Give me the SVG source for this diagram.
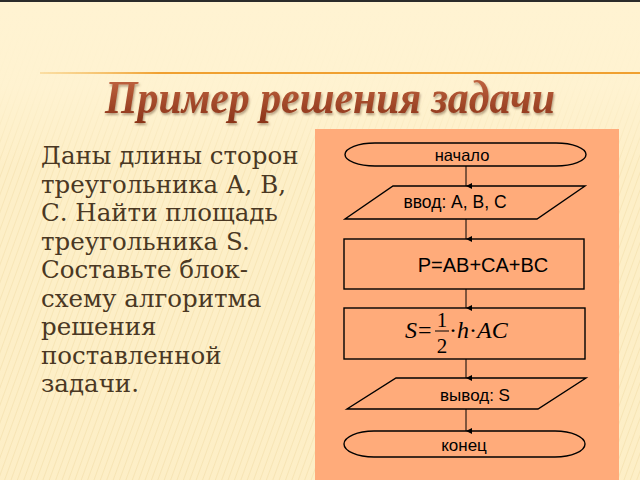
<svg xmlns="http://www.w3.org/2000/svg" width="640" height="480" viewBox="0 0 640 480">
<defs>
<pattern id="stripes" width="6" height="6" patternUnits="userSpaceOnUse" patternTransform="rotate(20)">
<rect width="6" height="6" fill="none"/>
<line x1="0" y1="0" x2="0" y2="6" stroke="#e8cc8a" stroke-width="1.2" opacity="0.55"/>
</pattern>
<linearGradient id="bgfade" x1="0" y1="0" x2="0" y2="1">
<stop offset="0" stop-color="#fff3d2" stop-opacity="1"/>
<stop offset="0.18" stop-color="#fff3d2" stop-opacity="0.9"/>
<stop offset="0.35" stop-color="#fff3d2" stop-opacity="0.2"/>
<stop offset="1" stop-color="#fff3d2" stop-opacity="0.1"/>
</linearGradient>
<linearGradient id="orangeLine" x1="0" y1="0" x2="1" y2="0">
<stop offset="0" stop-color="#f5c060" stop-opacity="0.4"/>
<stop offset="0.2" stop-color="#f0a030"/>
<stop offset="1" stop-color="#f0a030"/>
</linearGradient>
<linearGradient id="titleFill" x1="0" y1="0" x2="0" y2="1">
<stop offset="0" stop-color="#c86a45"/>
<stop offset="1" stop-color="#8a3318"/>
</linearGradient>
<filter id="shadow" x="-10%" y="-30%" width="120%" height="160%">
<feDropShadow dx="1" dy="2" stdDeviation="1.2" flood-color="#6b4a30" flood-opacity="0.5"/>
</filter>
<marker id="arr" markerWidth="8" markerHeight="8" refX="4" refY="7" orient="auto" markerUnits="userSpaceOnUse">
<path d="M1,1 L4,7 L7,1 Z" fill="#000"/>
</marker>
</defs>
<style>
.shape { fill: none; stroke: #000; stroke-width: 1.4; }
.lbl { font-family: "Liberation Sans", Arial, sans-serif; fill: #000; text-anchor: middle; }
.math { font-family: "Liberation Serif", "Times New Roman", serif; fill: #000; }
.body { font-family: "DejaVu Serif", serif; font-size: 24.5px; fill: #4a3823; }
.conn { stroke: #000; stroke-width: 1; fill: none; marker-end: url(#arr); }
</style>

<rect x="0" y="0" width="640" height="480" fill="#fdeec5"/>
<rect x="0" y="0" width="640" height="480" fill="url(#stripes)"/>
<rect x="0" y="0" width="640" height="480" fill="url(#bgfade)"/>
<rect x="0" y="0" width="640" height="2" fill="#2b2b2b"/>
<rect x="40" y="72" width="600" height="2" fill="url(#orangeLine)"/>

<text x="330" y="113" font-family="Liberation Serif, serif" font-style="italic" font-weight="bold" font-size="46" fill="url(#titleFill)" text-anchor="middle" textLength="450" lengthAdjust="spacingAndGlyphs" filter="url(#shadow)">Пример решения задачи</text>

<g id="task-text" class="body">
<text x="41" y="164">Даны длины сторон</text>
<text x="41" y="193">треугольника А, В,</text>
<text x="41" y="221">С. Найти площадь</text>
<text x="41" y="250">треугольника S.</text>
<text x="41" y="278">Составьте блок-</text>
<text x="41" y="307">схему алгоритма</text>
<text x="41" y="335">решения</text>
<text x="41" y="364">поставленной</text>
<text x="41" y="392">задачи.</text>
</g>

<rect x="315" y="129" width="304" height="351" fill="#ffab7a"/>

<g id="connectors">
<line class="conn" x1="466" y1="166" x2="466" y2="186"/>
<line class="conn" x1="466" y1="219" x2="466" y2="239"/>
<line class="conn" x1="466" y1="289" x2="466" y2="308"/>
<line class="conn" x1="466" y1="359" x2="466" y2="378"/>
<line class="conn" x1="466" y1="409" x2="466" y2="431"/>
</g>

<g id="start">
<rect class="shape" x="345" y="143" width="241" height="23" rx="30" ry="11.5"/>
<text class="lbl" x="462" y="161" font-size="16.5">начало</text>
</g>

<g id="input">
<polygon class="shape" points="393,186 585,186 537,219 345,219"/>
<text class="lbl" x="455" y="208" font-size="17.5">ввод: А, В, С</text>
</g>

<g id="perimeter">
<rect class="shape" x="344" y="239" width="240" height="50"/>
<text class="lbl" x="483" y="272" font-size="20">P=AB+CA+BC</text>
</g>

<g id="area">
<rect class="shape" x="344" y="308" width="241" height="51"/>
<text class="math" x="405" y="338" font-size="24" font-style="italic">S</text>
<text class="math" x="418" y="338" font-size="24">=</text>
<line x1="435" y1="331" x2="449" y2="331" stroke="#000" stroke-width="1"/>
<text class="math" x="442" y="327" font-size="21" text-anchor="middle">1</text>
<text class="math" x="442" y="353" font-size="21" text-anchor="middle">2</text>
<text class="math" x="449" y="338" font-size="24"><tspan>·</tspan><tspan font-style="italic">h</tspan><tspan>·</tspan><tspan font-style="italic">AC</tspan></text>
</g>

<g id="output">
<polygon class="shape" points="396,378 586,378 538,409 347,409"/>
<text class="lbl" x="475" y="401" font-size="17">вывод: S</text>
</g>

<g id="end">
<rect class="shape" x="344" y="431" width="241" height="26" rx="30" ry="13"/>
<text class="lbl" x="464" y="451" font-size="17">конец</text>
</g>
</svg>
